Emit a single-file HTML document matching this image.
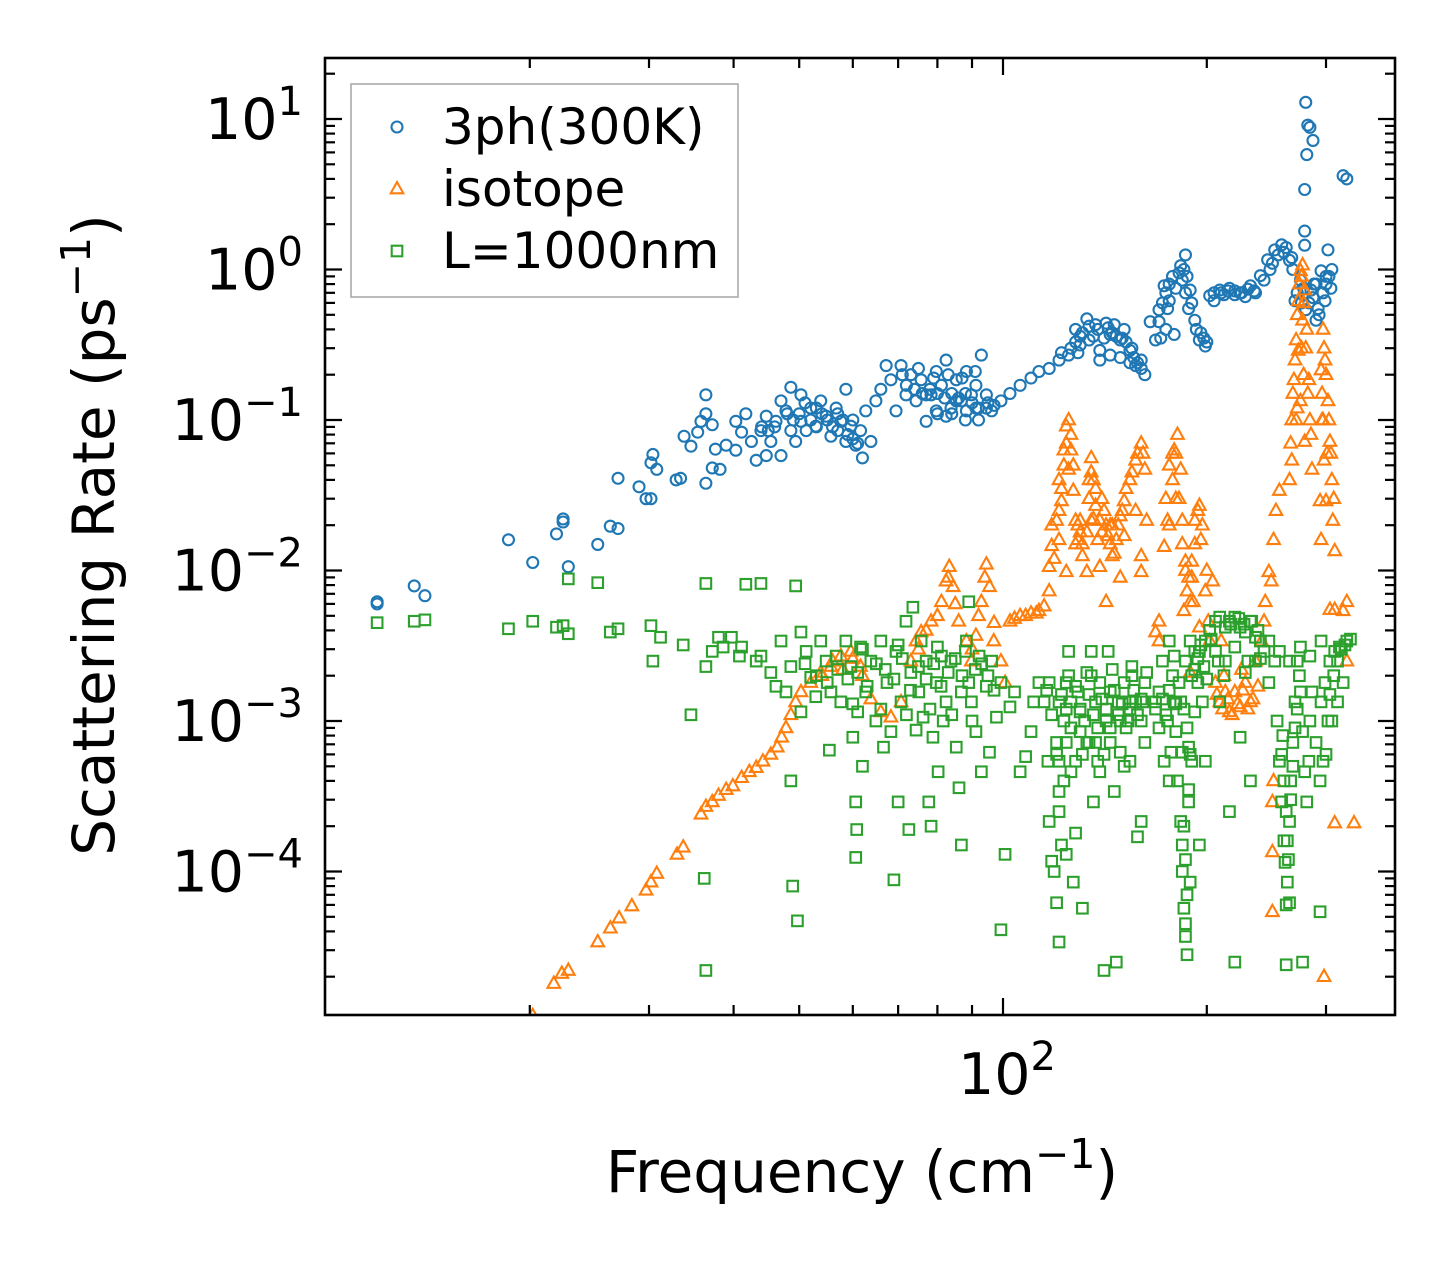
<!DOCTYPE html>
<html><head><meta charset="utf-8">
<style>
html,body{margin:0;padding:0;background:#fff;}
svg{display:block;font-family:"DejaVu Sans","Liberation Sans",sans-serif;}
</style></head>
<body>
<svg id="chart" width="1455" height="1265" viewBox="0 0 1455 1265">
<g id="marks"></g>
<g id="axes"></g>
</svg>
<script>
const xTickMajor = [100];
const xTickMinor = [20,30,40,50,60,70,80,90,200,300];
const yDecades = [-5,-4,-3,-2,-1,0,1];
const yTickLabels = ["−4","−3","−2","−1","0","1"];
const yTickLabelExps = [-4,-3,-2,-1,0,1];
const seriesNames = ["3ph(300K)","isotope","L=1000nm"];

const blueFreq = [11.9,11.9,13.5,14.0,18.6,20.2,21.9,22.4,22.4,22.8,25.2,26.3,27.0,27.0,29.0,29.7,30.2,30.2,30.4,30.8,32.9,33.4,33.8,34.6,35.4,35.8,36.4,36.4,37.2,37.6,36.4,37.2,38.2,39.0,40.3,40.3,41.1,41.7,42.5,43.2,43.9,44.7,44.7,45.4,46.2,47,47,47.8,48.6,48.6,49.4,50.3,50.3,51.2,52,52.9,53.8,54.8,55.7,56.7,57.6,58.6,58.6,59.6,60.6,61.6,62,62.7,63.8,64.9,66,67.2,68.3,69.5,70.7,71.9,73.1,74.4,75.7,77,78.3,79.7,81.1,82.4,83.8,85.3,86.8,88.3,89.8,91.2,92.9,94.5,96.2,77,79.7,82.4,85.3,88.3,91.2,94.5,99.3,102.4,106,110,113,117,121,125,128,130,133,134,137,139,142,144,146,149,151,154,157,160,162,168,170,173,176,179,183,186,189,192,195,199,202,209,216,224,232,240,246,252,258,265,270,275,280,285,290,295,299,302,280,282,284,287,281,279,279,279,318,322,139,144,149,154,205,212,220,228,236,130,122,165,175,290,300,305];
const blueRate = [.0062,.006,.0079,.0068,.016,.0113,.0175,.022,.021,.0106,.0149,.0197,.019,.041,.036,.03,.03,.052,.059,.047,.04,.041,.078,.067,.083,.098,.147,.11,.093,.064,.038,.048,.047,.068,.063,.098,.083,.11,.072,.054,.085,.058,.106,.072,.098,.058,.134,.115,.165,.085,.072,.147,.098,.085,.12,.091,.134,.106,.078,.12,.098,.072,.16,.091,.068,.085,.056,.115,.072,.134,.16,.23,.185,.115,.23,.147,.2,.134,.185,.098,.147,.21,.17,.25,.12,.185,.134,.21,.147,.17,.27,.147,.115,.147,.115,.106,.134,.115,.12,.12,.134,.15,.17,.19,.21,.22,.25,.27,.4,.315,.47,.34,.43,.29,.44,.37,.43,.34,.4,.29,.23,.22,.2,.34,.54,.78,.62,.37,1.06,1.25,.73,.46,.34,.31,.67,.73,.75,.7,.78,.91,1.16,1.35,1.46,1.15,.62,.85,.54,.73,.46,.98,.62,1.35,12.9,9.1,8.8,7.2,5.8,3.4,1.8,1.45,4.2,4.0,.25,.27,.26,.24,.7,.68,.72,.66,.7,.36,.28,.45,.55,.8,.9,.75];
const blueFreqMore = [50,51,52,53,54,55,56,57,58,59,60,61,60,57,53,49,48,46,45,44,72,74,76,78,80,82,84,86,88,90,92,95,97,80,84,88,92,71,75,79,83,87,91,128,131,134,136,138,141,143,145,147,150,152,155,156,158,160,126,129,170,172,174,176,178,180,182,184,186,188,190,193,196,198,200,171,174,185,187,205,210,215,220,225,230,235,243,248,250,255,260,262,267,268,272,276,278,283,287,292,297,300,303,306,293,288];
const blueRateMore = [.11,.13,.1,.09,.11,.1,.09,.11,.1,.08,.075,.07,.1,.085,.12,.1,.11,.09,.085,.09,.17,.16,.15,.16,.15,.14,.15,.14,.15,.13,.12,.13,.125,.11,.11,.1,.1,.2,.22,.19,.2,.19,.21,.33,.38,.42,.36,.4,.35,.41,.38,.36,.35,.33,.3,.26,.24,.25,.3,.28,.45,.6,.7,.8,.9,.75,.95,.85,.7,.55,.6,.4,.38,.35,.33,.35,.4,1.0,.9,.62,.7,.72,.68,.7,.74,.72,.85,1.0,1.1,1.25,1.3,1.4,1.2,1.0,.7,.6,.75,.6,.65,.55,.7,.8,.9,1.0,.5,.8];

const orangeFreq = [20.2,21.7,22.3,22.8,25.2,26.3,27.1,28.3,29.7,30.2,30.8,33,33.7,35.8,36.4,37.2,38,39,39.9,41.1,42.2,43.2,44.2,45.4,46.4,47.1,47.8,48.6,49.4,50.3,52,53.8,55.7,57.6,59.6,61.6,63.8,66,68.3,70.7,73.1,74.4,75.7,78.3,81.1,82.4,83.3,84.4,86,88.3,89.8,91.2,92.9,94.5,95.5,96.9,99.3,100.7,102.4,106,110,113,115,117,118,120,121,123,124,125,126,127,128,129,131,133,134,135,136,137,139,141,143,145,147,149,151,154,157,160,162,163,117,124,133,139,142,149,160,160,122,125,130,135,138,144,151,157,121,128,170,173,175,178,179,181,183,184,186,187,189,190,192,195,196,199,201,191,185,195,202,204,206,209,213,216,220,224,228,232,236,210,241,244,247,251,253,256,243,249,265,267,269,271,273,275,277,279,281,283,284,286,273,277,271,279,275,267,295,297,299,302,304,306,307,309,296,298,300,294,295,298,250,250,250,251,309,330,304,309,318,322,322,170,168,189];
const orangeRate = [1.1e-5,1.8e-5,2.1e-5,2.2e-5,3.4e-5,4.2e-5,4.9e-5,5.9e-5,7.5e-5,8.5e-5,9.7e-5,1.3e-4,1.45e-4,2.4e-4,2.7e-4,2.9e-4,3.2e-4,3.5e-4,3.7e-4,4.2e-4,4.6e-4,4.9e-4,5.4e-4,6e-4,6.7e-4,7.8e-4,9e-4,1.1e-3,1.34e-3,1.56e-3,1.8e-3,2.1e-3,2.3e-3,2.7e-3,2.9e-3,2.3e-3,1.4e-3,1.15e-3,1.06e-3,1.34e-3,2.5e-3,3.4e-3,3.9e-3,4.6e-3,6.2e-3,8.5e-3,1.06e-2,7.8e-3,4.6e-3,3.4e-3,2.5e-3,3.7e-3,6.2e-3,1.1e-2,7.8e-3,3.4e-3,2.5e-3,1.8e-3,4.6e-3,5e-3,5.2e-3,5.4e-3,5.8e-3,1.06e-2,.0146,.0215,.04,.063,.091,.1,.063,.034,.0215,.016,.0125,.018,.04,.056,.04,.027,.0215,.025,.017,.0125,.016,.023,.029,.04,.054,.07,.047,.0215,7.3e-3,9.8e-3,9.8e-3,.0106,6.2e-3,9e-3,.0125,9.8e-3,.029,.047,.0215,.0215,.016,.02,.017,.025,.016,.015,4.6e-3,.0144,.0215,.04,.063,.08,.047,.0215,.0115,7.3e-3,6.2e-3,.0115,.0215,.027,.016,7.3e-3,4.6e-3,6.2e-3,5.4e-3,4.2e-3,3.4e-3,8.5e-3,1.8e-3,1.34e-3,1.56e-3,1.15e-3,1.56e-3,1.24e-3,1.8e-3,1.34e-3,2.5e-3,3.4e-3,3.4e-3,6.2e-3,9.8e-3,.016,.025,.034,4.6e-3,8.5e-3,.04,.1,.185,.34,.62,.98,1.07,.73,.4,.185,.1,.047,.29,.46,.1,.072,.134,.054,.215,.4,.25,.134,.072,.04,.0215,.0135,.1,.054,.029,.029,.016,2e-5,5.4e-5,1.35e-4,2.9e-4,4e-4,2.1e-4,2.1e-4,5.5e-3,5.5e-3,5.4e-3,6.2e-3,2.5e-3,3.4e-3,3.9e-3,2.1e-3];
const orangeFreqMore = [119,121,123,124,126,127,129,131,134,135,137,140,142,144,146,148,150,152,155,158,161,118,122,130,136,140,145,174,176,178,180,182,184,188,192,194,197,200,176,180,186,190,268,270,272,274,276,278,280,282,272,276,278,266,285,296,298,300,303,305,308,297,301,207,211,215,218,222,226,230,234,238,212,225,54,56,58,60,62,75,77,80,83,85,90,92,94,97,104,108,112];
const orangeRateMore = [.012,.025,.05,.07,.08,.05,.02,.015,.03,.045,.035,.018,.02,.015,.013,.02,.025,.035,.045,.06,.06,.02,.035,.018,.022,.03,.02,.03,.05,.06,.06,.03,.015,.009,.015,.025,.02,.01,.02,.03,.01,.009,.15,.25,.5,.8,.9,.6,.3,.15,.12,.3,.2,.07,.08,.15,.3,.2,.1,.06,.03,.1,.06,1.5e-3,1.2e-3,1.4e-3,1.1e-3,1.3e-3,1.6e-3,1.2e-3,1.4e-3,1.7e-3,2e-3,2.2e-3,2e-3,2.5e-3,2.2e-3,2.6e-3,2e-3,3e-3,4e-3,5e-3,9e-3,6e-3,3e-3,5e-3,9e-3,4.5e-3,4.8e-3,5e-3,5.2e-3];

const greenFreq = [11.9,13.5,14,18.6,20.2,21.9,22.4,22.8,22.8,25.2,26.3,27,30.2,30.4,31.2,33.7,34.6,36.4,36.4,37.2,38,38.6,39.7,40.8,41.7,43.9,49.4,36.4,36.2,41.1,43.2,43.9,45.4,46.2,47,47.8,48.6,48.9,49.7,48.6,50.3,50.3,51.2,52,52.9,53.8,54.8,55.4,55.7,56.7,57.6,58.6,59.6,60,60.6,60.8,60.6,61,61.6,62,62.7,63.8,64.9,66,66.6,67.4,68.3,69,69.5,70,70.7,71.9,72.6,73.1,73.6,74.4,75.1,75.7,76.2,77,77.7,78.3,78.8,79.7,80.2,81.1,81.6,82.4,83.8,85.3,86.1,86.8,86.8,88.3,89,89.8,91.2,92.2,92.9,94.5,95.5,96.2,97.8,99.3,99.3,100.7,102.4,106,108,104,110,111,113,115,116.5,117,118,120,121,121,123,124,125,126,127,128,129,130,131,133,134,135,136,137,138,139,141,142,143,144,146,147,148,149,151,153,154,155,157,158,160,161,162,160,120,121,124,126,130,133,137,139,144,149,154,124,128,121,117,168,170,172,175,176,177,179,181,183,184,185,186,187,189,188,190,192,194,195,197,199,179,186,189,192,183,173,176,180,184,188,195,199,202,206,209,213,216,220,224,228,232,236,240,206,213,220,228,236,209,224,216,220,232,243,247,252,254,256,258,260,261,263,265,266,268,270,272,275,277,279,281,283,284,286,290,294,295,297,299,302,262,277,294,265,304,309,314,322,326,312,318,247,256,265,275,284,295];
const greenRate = [4.5e-3,4.6e-3,4.7e-3,4.1e-3,4.6e-3,4.2e-3,4.3e-3,8.8e-3,3.8e-3,8.3e-3,3.9e-3,4.1e-3,4.3e-3,2.5e-3,3.6e-3,3.2e-3,1.1e-3,8.2e-3,2.3e-3,2.9e-3,3.6e-3,3.1e-3,3.6e-3,2.7e-3,8.1e-3,8.2e-3,7.9e-3,2.2e-5,9e-5,3.1e-3,2.5e-3,2.7e-3,2.1e-3,1.7e-3,3.4e-3,1.56e-3,4e-4,8e-5,4.7e-5,2.3e-3,3.9e-3,1.15e-3,2.9e-3,1.95e-3,1.45e-3,3.4e-3,2.5e-3,6.4e-4,1.56e-3,2.7e-3,1.34e-3,3.4e-3,2.3e-3,7.8e-4,2.9e-4,1.9e-4,1.24e-4,1.15e-3,3.1e-3,5e-4,1.56e-3,2.5e-3,1e-3,3.4e-3,6.7e-4,1.8e-3,8.5e-4,8.8e-5,2.9e-3,2.9e-4,1.34e-3,4.6e-3,1.9e-4,2.1e-3,5.7e-3,8.7e-4,1.56e-3,3.4e-3,1.06e-3,2.5e-3,2.9e-4,2e-4,7.8e-4,1.8e-3,4.6e-4,2.7e-3,1e-3,1.34e-3,2.5e-3,6.7e-4,3.6e-4,1.5e-4,1.56e-3,3.4e-3,6.2e-3,1.34e-3,8.5e-4,2.7e-3,4.6e-4,1.7e-3,6.2e-4,2.5e-3,1.06e-3,4.1e-5,1.8e-3,1.3e-4,1.24e-3,4.6e-4,5.8e-4,1.56e-3,8.5e-4,1.34e-3,1.8e-3,1.34e-3,5.4e-4,2.15e-4,1.17e-4,6.2e-5,3.4e-5,3.4e-4,1e-3,1.8e-3,2.9e-3,1.34e-3,8.5e-5,5.4e-4,1.56e-3,8.5e-4,5.7e-5,2.1e-3,7.2e-4,2.9e-3,2.9e-4,1.34e-3,5.4e-4,1.8e-3,2.2e-5,1e-3,2.9e-3,1.56e-3,3.4e-4,2.5e-5,1.34e-3,6.2e-4,1.8e-3,1e-3,5.4e-4,2.3e-3,1.34e-3,1.7e-4,1e-3,1.34e-3,7.2e-4,2.15e-4,7.2e-4,5.4e-4,7.2e-4,4.6e-4,1.15e-3,7.2e-4,7.2e-4,4.6e-4,7.2e-4,1e-3,1.34e-3,1.3e-4,1.8e-4,1.34e-3,1.8e-3,1.34e-3,1.56e-3,2.5e-3,1e-3,3.4e-3,6.2e-4,1.34e-3,4e-4,2.15e-4,1e-4,5.7e-5,3.7e-5,2.8e-5,8.5e-5,2.9e-4,5.4e-4,1.15e-3,1.8e-3,2.9e-3,1.34e-3,3.4e-3,2.7e-3,2.5e-3,3.4e-3,2.9e-3,1.34e-3,5.4e-4,4e-4,8.5e-4,6.2e-4,6.7e-4,1.5e-4,5.4e-4,4e-3,4.6e-3,4.9e-3,4.2e-3,4.6e-3,4.9e-3,4.2e-3,3.9e-3,4.6e-3,3.6e-3,3.4e-3,2.9e-3,2.5e-3,3.1e-3,2.1e-3,2.5e-3,1.34e-3,7.8e-4,2.5e-4,2.5e-5,4e-4,2.9e-3,1.8e-3,2.5e-3,1e-3,5.4e-4,2.9e-4,1.6e-4,1.15e-4,8.5e-5,2.15e-4,4e-4,7.2e-4,1.34e-3,2.5e-3,1.56e-3,8.5e-4,4.6e-4,2.9e-4,5.4e-4,1e-3,1.56e-3,7.2e-4,4e-4,1.34e-3,5.4e-4,1.8e-3,1e-3,2.4e-5,2.5e-5,5.4e-5,6.2e-5,2.5e-3,2.9e-3,3.1e-3,3.4e-3,3.5e-3,1.34e-3,1.8e-3,3.4e-3,2.9e-3,2.5e-3,3.1e-3,2.7e-3,3.4e-3];
const greenFreqMore = [51,53,55,57,59,61,63,65,67,69,71,73,75,77,79,81,83,85,87,89,91,93,95,97,60,66,72,78,84,90,62,70,80,88,116,118,120,122,124,126,128,130,132,134,136,138,140,142,144,146,148,150,152,154,156,158,160,162,121,122,119,123,125,135,145,155,131,141,151,163,184,185,186,187,186,188,189,187,185,190,258,259,260,262,263,264,262,266,268,270,272,274,217,223,227,233,238,203,208,212,230,240,168,170,172,174,176,178,180,182,192,194,196,198,200,304,308,312,316,320,306,300];
const greenRateMore = [2.4e-3,2.0e-3,1.8e-3,2.2e-3,1.9e-3,2.1e-3,1.7e-3,2.4e-3,2.2e-3,1.9e-3,2.6e-3,1.6e-3,2.3e-3,1.9e-3,2.4e-3,1.7e-3,2.1e-3,2.6e-3,2.0e-3,1.8e-3,2.2e-3,2.4e-3,2.0e-3,1.6e-3,1.3e-3,1.2e-3,1.1e-3,1.2e-3,1.1e-3,1.0e-3,3e-3,3.2e-3,3.1e-3,2.9e-3,1.6e-3,1.1e-3,6e-4,1.5e-3,1.2e-3,9e-4,1.7e-3,1.2e-3,1e-3,1.5e-3,1.1e-3,9e-4,1.4e-3,1.2e-3,9e-4,1.6e-3,1.1e-3,1.3e-3,9e-4,1.2e-3,1.6e-3,1.1e-3,1.4e-3,1.8e-3,2.5e-4,1.5e-4,1e-4,4e-4,2e-3,2e-3,2.2e-3,2e-3,6e-4,6e-4,5e-4,2.1e-3,1.5e-4,2e-4,1.2e-4,7e-5,4.5e-5,3.5e-4,6e-4,9e-4,1.2e-3,2e-3,6e-4,8e-4,4e-4,2.5e-4,1.6e-4,1.2e-4,6e-5,3e-4,5e-4,9e-4,1.2e-3,2e-3,4.4e-3,4.8e-3,4.4e-3,4.6e-3,4.0e-3,3.5e-3,2.5e-3,2.0e-3,2.5e-3,2.6e-3,1.2e-3,9e-4,1.4e-3,1.1e-3,1.6e-3,2e-3,1.3e-3,1.8e-3,2.2e-3,2.6e-3,3.2e-3,2.3e-3,1.9e-3,1.5e-3,2e-3,2.5e-3,3e-3,3.2e-3,1e-3,6e-4];

const NS = "http://www.w3.org/2000/svg";
const X0 = 325, X1 = 1395, Y0 = 58, Y1 = 1015;
function xScale(f){ return 1003 + 677*(Math.log10(f) - 2); }
function yScale(r){ return 119 + 150.5*(1 - Math.log10(r)); }
function mk(tag, attrs, parent){
  const e = document.createElementNS(NS, tag);
  for (const k in attrs) e.setAttribute(k, attrs[k]);
  parent.appendChild(e); return e;
}
const marks = document.getElementById('marks');
const axes = document.getElementById('axes');
const clip = mk('clipPath', {id:'pc'}, document.getElementById('chart'));
mk('rect', {x:X0, y:Y0, width:X1-X0, height:Y1-Y0}, clip);
marks.setAttribute('clip-path','url(#pc)');

function circle(g, cx, cy){ return mk('circle',{cx:cx,cy:cy,r:5.5,fill:'none',stroke:'#1f77b4','stroke-width':2.1},g); }
function tri(g, cx, cy){ return mk('polygon',{points:`${cx},${cy-7} ${cx-6.3},${cy+4.3} ${cx+6.3},${cy+4.3}`,fill:'none',stroke:'#ff7f0e','stroke-width':2.1},g); }
function sq(g, cx, cy){ return mk('rect',{x:cx-5.3,y:cy-5.3,width:10.6,height:10.6,fill:'none',stroke:'#2ca02c','stroke-width':2.1},g); }

function drawSeries(name, fArr, rArr, fn){
  const g = mk('g',{},marks);
  
  
  fArr.forEach((f,i)=>{
    const el = fn(g, xScale(f), yScale(rArr[i]));
    
    
  });
}
drawSeries('3ph', blueFreq, blueRate, circle);
drawSeries('3ph', blueFreqMore, blueRateMore, circle);
drawSeries('isotope', orangeFreq, orangeRate, tri);
drawSeries('isotope', orangeFreqMore, orangeRateMore, tri);
drawSeries('boundary', greenFreq, greenRate, sq);
drawSeries('boundary', greenFreqMore, greenRateMore, sq);

const frame = mk('rect',{x:X0,y:Y0,width:X1-X0,height:Y1-Y0,fill:'none',stroke:'#000','stroke-width':2.6},axes);



function tickPair(x, len){
  mk('line',{x1:x,y1:Y1,x2:x,y2:Y1-len,stroke:'#000','stroke-width':2.2},axes);
  mk('line',{x1:x,y1:Y0,x2:x,y2:Y0+len,stroke:'#000','stroke-width':2.2},axes);
}
xTickMajor.forEach(v=>tickPair(xScale(v),17));
xTickMinor.forEach(v=>tickPair(xScale(v),10));
yDecades.forEach(d=>{
  for (let m=1;m<10;m++){
    const y = yScale(m*Math.pow(10,d));
    if (y < Y0+1 || y > Y1-1) continue;
    const len = m===1?17:10;
    mk('line',{x1:X0,y1:y,x2:X0+len,y2:y,stroke:'#000','stroke-width':2.2},axes);
    mk('line',{x1:X1,y1:y,x2:X1-len,y2:y,stroke:'#000','stroke-width':2.2},axes);
  }
});

yTickLabelExps.forEach((e,i)=>{
  const t = mk('text',{x:303,y:yScale(Math.pow(10,e))+20,'text-anchor':'end','font-size':57,fill:'#000'},axes);
  
  
  const a = mk('tspan',{},t); a.textContent='10';
  const b = mk('tspan',{dy:-24,'font-size':40},t); b.textContent=yTickLabels[i];
});
const xt = mk('text',{x:xScale(100)+4,y:1094,'text-anchor':'middle','font-size':57,fill:'#000'},axes);


mk('tspan',{},xt).textContent='10';
mk('tspan',{dy:-24,'font-size':40},xt).textContent='2';

const xl = mk('text',{x:862,y:1192,'text-anchor':'middle','font-size':58,fill:'#000'},axes);


mk('tspan',{},xl).textContent='Frequency (cm';
mk('tspan',{dy:-24,'font-size':41},xl).textContent='−1';
mk('tspan',{dy:24},xl).textContent=')';

const yl = mk('text',{x:0,y:0,'text-anchor':'middle','font-size':58,fill:'#000',transform:'translate(114,535) rotate(-90)'},axes);


mk('tspan',{},yl).textContent='Scattering Rate (ps';
mk('tspan',{dy:-24,'font-size':41},yl).textContent='−1';
mk('tspan',{dy:24},yl).textContent=')';

const lg = mk('g',{},axes);


mk('rect',{x:351,y:84,width:387,height:213,fill:'#fff','fill-opacity':0.85,stroke:'#aaa','stroke-width':1.6},lg);
const lgY = [127,189,251];
const drawers = [circle, tri, sq];
seriesNames.forEach((n,i)=>{
  const ent = mk('g',{},lg);
  
  
  drawers[i](ent, 397, lgY[i]);
  const t = mk('text',{x:442,y:lgY[i]+17,'font-size':50,fill:'#000'},ent);
  t.textContent = n;
});
</script>
</body></html>
